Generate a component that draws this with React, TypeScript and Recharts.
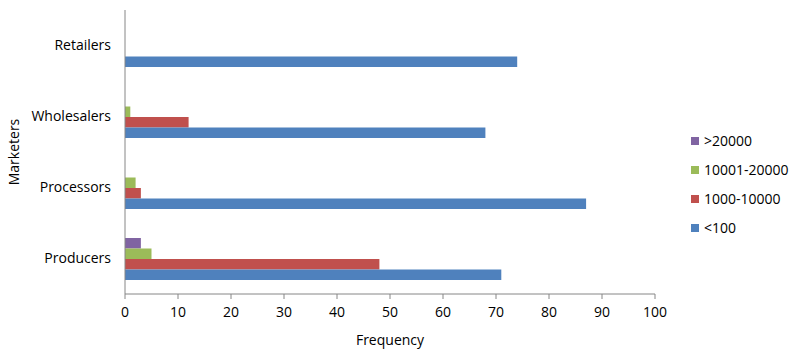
import React from "react";
import { BarChart, Bar, XAxis, YAxis } from "recharts";

const categories = ["Retailers", "Wholesalers", "Processors", "Producers"];
const seriesNames = [">20000", "10001-20000", "1000-10000", "<100"];
const over20000 = [0, 0, 0, 3];
const s10001to20000 = [0, 1, 2, 5];
const s1000to10000 = [0, 12, 3, 48];
const under100 = [74, 68, 87, 71];
const xTicks = [0, 10, 20, 30, 40, 50, 60, 70, 80, 90, 100];
const colors = ["#8064A2", "#9BBB59", "#C0504D", "#4F81BD"];

const data = categories.map((c, i) => ({
  name: c,
  a: over20000[i],
  b: s10001to20000[i],
  c: s1000to10000[i],
  d: under100[i],
}));

const FONT = "'Open Sans', sans-serif";
const FS = 14;

export default function App() {
  return (
    <div style={{ position: "absolute", left: 0, top: 0, width: 800, height: 359, background: "#fff" }}>
      <BarChart
        width={800}
        height={359}
        data={data}
        layout="vertical"
        margin={{ top: 10, right: 145, bottom: 10, left: 0 }}
        barGap={0}
        style={{ fontFamily: FONT }}
      >
        <XAxis
          type="number"
          domain={[0, 100]}
          ticks={xTicks}
          interval={0}
          height={55}
          axisLine={{ stroke: "#868686" }}
          tickLine={{ stroke: "#868686" }}
          tickSize={5}
          tickMargin={8}
          tick={{ fill: "#000", fontSize: FS, fontFamily: FONT }}
          label={{ value: "Frequency", position: "insideBottom", offset: 4, fill: "#000", fontSize: FS, fontFamily: FONT }}
        />
        <YAxis
          type="category"
          dataKey="name"
          width={125}
          axisLine={{ stroke: "#868686" }}
          tickLine={false}
          tickSize={8}
          tickMargin={6}
          tick={{ fill: "#000", fontSize: FS, fontFamily: FONT }}
          label={{ value: "Marketers", angle: -90, position: "insideLeft", offset: 14, fill: "#000", fontSize: FS, fontFamily: FONT, style: { textAnchor: "middle" } }}
        />
        <Bar dataKey="a" name={seriesNames[0]} fill={colors[0]} barSize={10.5} isAnimationActive={false} />
        <Bar dataKey="b" name={seriesNames[1]} fill={colors[1]} barSize={10.5} isAnimationActive={false} />
        <Bar dataKey="c" name={seriesNames[2]} fill={colors[2]} barSize={10.5} isAnimationActive={false} />
        <Bar dataKey="d" name={seriesNames[3]} fill={colors[3]} barSize={10.5} isAnimationActive={false} />
      </BarChart>
      <div style={{ position: "absolute", left: 691, top: 126, fontFamily: FONT, fontSize: FS, color: "#000" }}>
        {seriesNames.map((n, i) => (
          <div key={n} style={{ display: "flex", alignItems: "center", height: 29 }}>
            <span style={{ display: "inline-block", width: 8, height: 8, background: colors[i], marginRight: 5 }} />
            <span>{n}</span>
          </div>
        ))}
      </div>
    </div>
  );
}
